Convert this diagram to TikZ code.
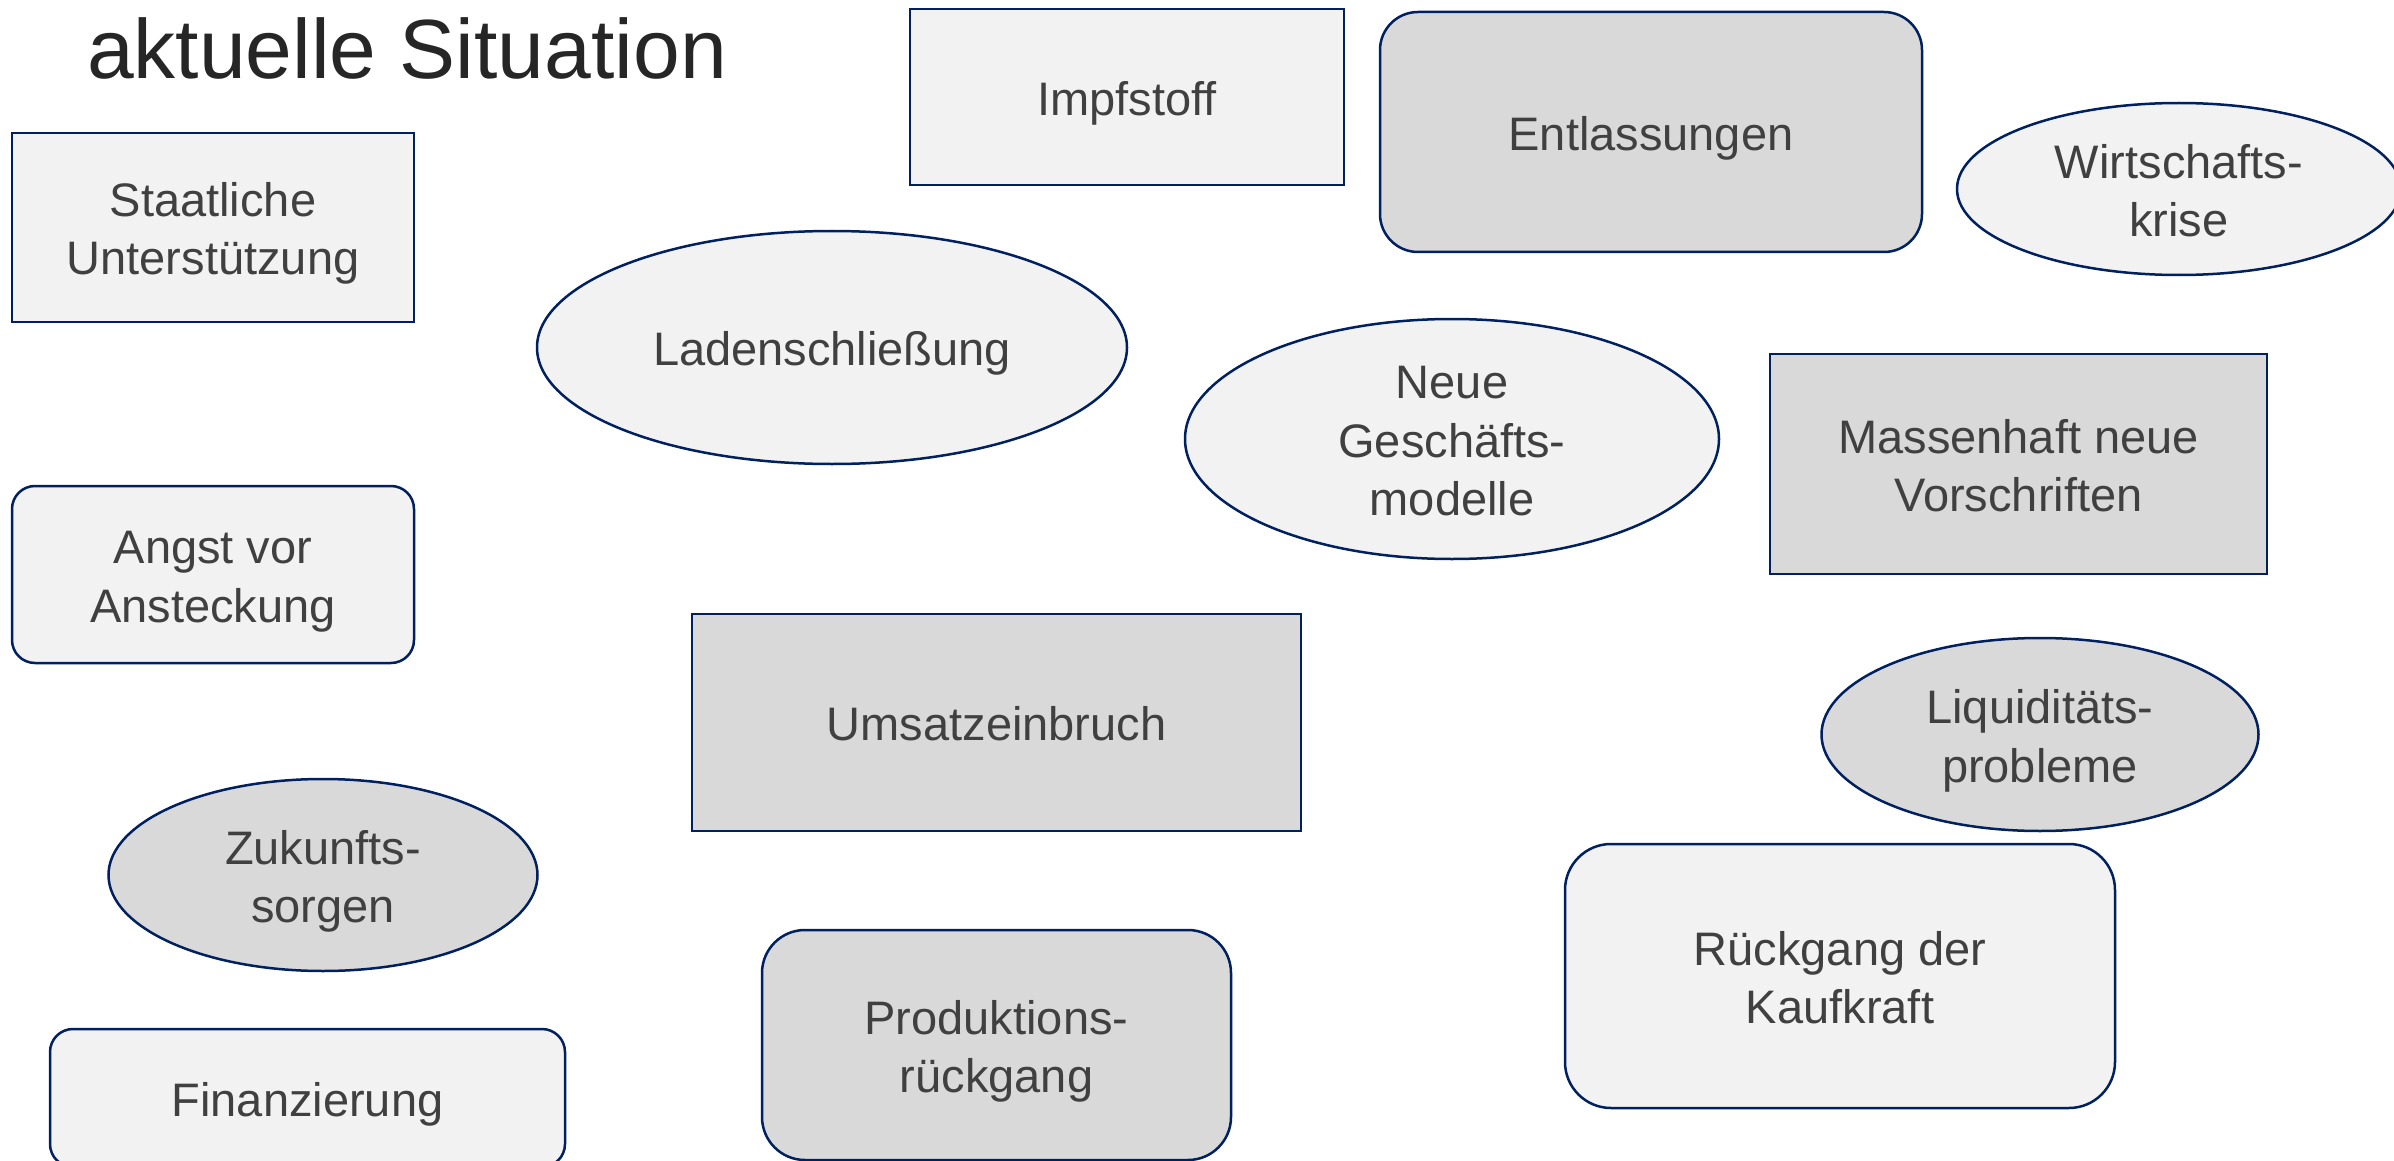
\documentclass[tikz,border=0pt]{standalone}
\usepackage{fontspec}
\setmainfont{Liberation Sans}
\usetikzlibrary{shapes.geometric}
\definecolor{navy}{HTML}{002060}
\definecolor{lightg}{HTML}{F2F2F2}
\definecolor{darkg}{HTML}{D9D9D9}
\definecolor{txt}{HTML}{404040}
\definecolor{ttl}{HTML}{262626}
\newcommand{\nodefont}{\fontsize{47}{57}\selectfont}
\newcommand{\titlefont}{\fontsize{84}{100}\selectfont}
\newcommand{\st}{\rule[-0.22em]{0pt}{1.22em}}
\tikzset{
  shp/.style={draw=navy, line width=2.5pt, text=txt, font=\nodefont, align=center, inner sep=0pt},
  lightf/.style={fill=lightg},
  darkf/.style={fill=darkg},
  rect/.style={shp, rectangle},
  rrect/.style={shp, rectangle, rounded corners=#1},
  ell/.style={shp, ellipse},
  sz/.style 2 args={minimum width=#1pt, minimum height=#2pt}
}
\begin{document}
\begin{tikzpicture}[x=1pt,y=-1pt]
\useasboundingbox (0,0) rectangle (2394,1161);
\clip (0,0) rectangle (2394,1161);
\node[anchor=base west, inner sep=0pt, text=ttl, font=\titlefont] (title) at (87,79) {aktuelle Situation};
\node[rect, lightf, sz={434}{176}] (impf) at (1127,97) {\st Impfstoff};
\node[rrect=38pt, darkf, sz={542}{240}] (entl) at (1651,132) {\st Entlassungen};
\node[ell, lightf, sz={444}{172}] (wirt) at (2179,189) {\st Wirtschafts-\\\st krise};
\node[rect, lightf, sz={402}{189}] (staat) at (213,227.5) {\st Staatliche\\\st Unterstützung};
\node[ell, lightf, sz={590}{233}] (laden) at (832,347.5) {\st Ladenschließung};
\node[ell, lightf, sz={534}{240}, inner ysep=-3pt] (neue) at (1452,439) {\st Neue\\\st Geschäfts-\\\st modelle};
\node[rect, darkf, sz={497}{220}] (mass) at (2018.5,464) {\st Massenhaft neue\\\st Vorschriften};
\node[rrect=23pt, lightf, sz={402}{177}] (angst) at (213,574.5) {\st Angst vor\\\st Ansteckung};
\node[rect, darkf, sz={609}{217}] (umsatz) at (996.5,722.5) {\st Umsatzeinbruch};
\node[ell, darkf, sz={437}{193}] (liq) at (2040,734.5) {\st Liquiditäts-\\\st probleme};
\node[ell, darkf, sz={429}{192}] (zuk) at (323,875) {\st Zukunfts-\\\st sorgen};
\node[rrect=46pt, lightf, sz={550}{264}] (rueck) at (1840,976) {\st Rückgang der\\\st Kaufkraft};
\node[rrect=43pt, darkf, sz={469}{230}] (prod) at (996.5,1045) {\st Produktions-\\\st rückgang};
\node[rrect=23pt, lightf, sz={515}{138}] (fin) at (307.5,1098) {\st Finanzierung};
\end{tikzpicture}
\end{document}
